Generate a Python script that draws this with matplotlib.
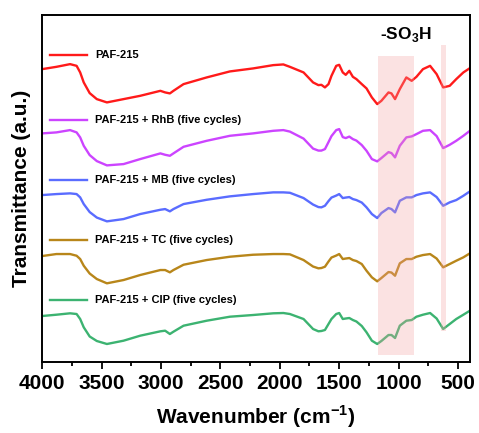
import matplotlib
matplotlib.use("Agg")
import matplotlib.pyplot as plt

plt.rcParams['font.family'] = ['Liberation Sans', 'DejaVu Sans']
plt.rcParams['mathtext.fontset'] = 'custom'
plt.rcParams['mathtext.rm'] = 'Liberation Sans:bold'
plt.rcParams['mathtext.bf'] = 'Liberation Sans:bold'

# wavenumbers (cm-1) shared by all spectra
wavenumber = [4000, 3880, 3765, 3710, 3680, 3650, 3600, 3540, 3455, 3315,
              3175, 3005, 2965, 2925, 2895, 2810, 2615, 2420, 2225, 2055,
              1970, 1915, 1800, 1720, 1675, 1650, 1620, 1590, 1565, 1525,
              1500, 1470, 1445, 1415, 1385, 1355, 1310, 1270, 1225, 1180,
              1145, 1085, 1060, 1030, 990, 935, 890, 850, 795, 735,
              680, 625, 570, 515, 455, 400]

# transmittance (a.u.) of each sample
paf215 = [10, 12.3, 15, 13.3, 6.7, -3.3, -14, -20, -23.3, -20,
          -16.7, -11.7, -13.3, -14.3, -11.7, -5, 1.7, 7.7, 10.7, 14,
          14.7, 12.3, 6.7, -3.3, -6, -5.7, -8.3, -5, 3.3, 13.3,
          14.3, 6.7, 4.3, 8.3, 2.3, 0, -5, -9.3, -18.3, -25,
          -21.7, -13.3, -14.3, -20, -10, 1.7, -1.7, 2.3, 10, 13.3,
          5, -8.3, -6.7, 0, 6.7, 11]
paf_rhb = [10.7, 11.7, 14, 11.7, 6.7, -1.7, -11, -17, -21.3, -20,
           -15, -9.3, -10.7, -11.7, -9.3, -2.7, 3.3, 8.3, 10.7, 13.3,
           14, 12.5, 5.5, -4.5, -6.5, -6.5, -5, 2, 8, 14,
           15, 7, 6, 7.5, 5, 3.5, -1, -6.7, -15, -17.3,
           -14, -8, -9, -13.3, -1.7, 6.7, 7.7, 10, 13.3, 14,
           8, -4, -0.7, 3.3, 8.3, 13.3]
paf_mb = [9, 10, 10.7, 10, 6.7, 0, -8, -13.5, -17.3, -15,
          -10, -5.7, -5, -7.3, -5, 0, 4.3, 7.7, 10, 11.7,
          11.7, 11.3, 6, -0.5, -3, -3.3, -1.7, 3, 6.5, 8.5,
          10, 6, 6.5, 7, 5, 4, 1.5, -3.3, -10, -14,
          -9, -4, -5, -8.3, 3.3, 6.7, 6.7, 9, 10.7, 11.7,
          7, -1.7, 1.7, 4, 8.3, 12.7]
paf_tc = [8, 10, 10, 8.3, 5, -1.7, -9.5, -15, -19.3, -16,
          -11, -6, -6, -8.3, -6, -0.7, 4, 7.3, 9.3, 10,
          10, 9.7, 4, -2.5, -4.3, -4, -2.7, 2.5, 6.5, 8.5,
          10, 5, 5.5, 6, 4, 3, 0, -6.7, -13.3, -17.3,
          -14, -8, -8.5, -11.7, 0.7, 5, 5, 7.3, 9, 10,
          5.5, -3.3, 0, 3.3, 6.7, 10.7]
paf_cip = [8, 9.3, 10.7, 10, 5, -3.3, -12.5, -17, -20, -16.7,
           -11.7, -7.3, -6.7, -10, -7.7, -1.7, 3.3, 7.3, 9, 10.7,
           11, 10, 5, -5, -7.3, -7, -6, 0, 5, 10,
           11, 5, 5.5, 6, 4, 2.5, -2, -8.3, -16.7, -20,
           -17, -11, -11, -14, -1.7, 3.3, 4, 7.3, 9.3, 11,
           5.5, -5, 0, 5, 9.3, 13.3]

labels = ['PAF-215', 'PAF-215 + RhB (five cycles)', 'PAF-215 + MB (five cycles)',
          'PAF-215 + TC (five cycles)', 'PAF-215 + CIP (five cycles)']
series = [paf215, paf_rhb, paf_mb, paf_tc, paf_cip]
colores = ['#ff1a1a', '#cc44ff', '#5a6cff', '#b8861a', '#3cb371']
offsets = [283, 218, 158, 98, 38]

fig = plt.figure(figsize=(4.79, 4.33), dpi=100)
ax = fig.add_axes([0.088, 0.164, 0.893, 0.801])

for y, lab, c, off in zip(series, labels, colores, offsets):
    ax.plot(wavenumber, [v + off for v in y], color=c, lw=1.7)
    # etiqueta en linea sobre cada espectro
    ax.plot([3935, 3620], [off + 24, off + 24], color=c, lw=1.7)
    ax.text(3555, off + 24, lab, fontsize=8, fontweight='bold',
            va='center', ha='left')

# bandas del grupo -SO3H
ax.axvspan(1175, 870, ymin=0.02, ymax=0.882, color='#f4a0a0', alpha=0.3,
           lw=0, zorder=3)
ax.axvspan(645, 597, ymin=0.089, ymax=0.914, color='#f4a0a0', alpha=0.3,
           lw=0, zorder=3)
ax.text(935, 328, r'-SO$_3$H', fontsize=12.5, fontweight='bold',
        ha='center', va='center')

ax.set_xlim(4000, 400)
ax.set_ylim(0, 347)
ax.set_xticks([4000, 3500, 3000, 2500, 2000, 1500, 1000, 500])
ax.set_xticks(range(3750, 400, -500), minor=True)
ax.set_yticks([])
ax.tick_params(axis='x', which='major', length=5, width=1.3, labelsize=15,
               pad=4)
ax.tick_params(axis='x', which='minor', length=3, width=1.3)
for lbl in ax.get_xticklabels():
    lbl.set_fontweight('bold')
for s in ax.spines.values():
    s.set_linewidth(1.4)

ax.set_xlabel(r'Wavenumber (cm$^{-1}$)', fontsize=15, fontweight='bold',
              labelpad=7)
ax.set_ylabel('Transmittance (a.u.)', fontsize=15, fontweight='bold',
              labelpad=8)

fig.savefig('out.png', dpi=100)
